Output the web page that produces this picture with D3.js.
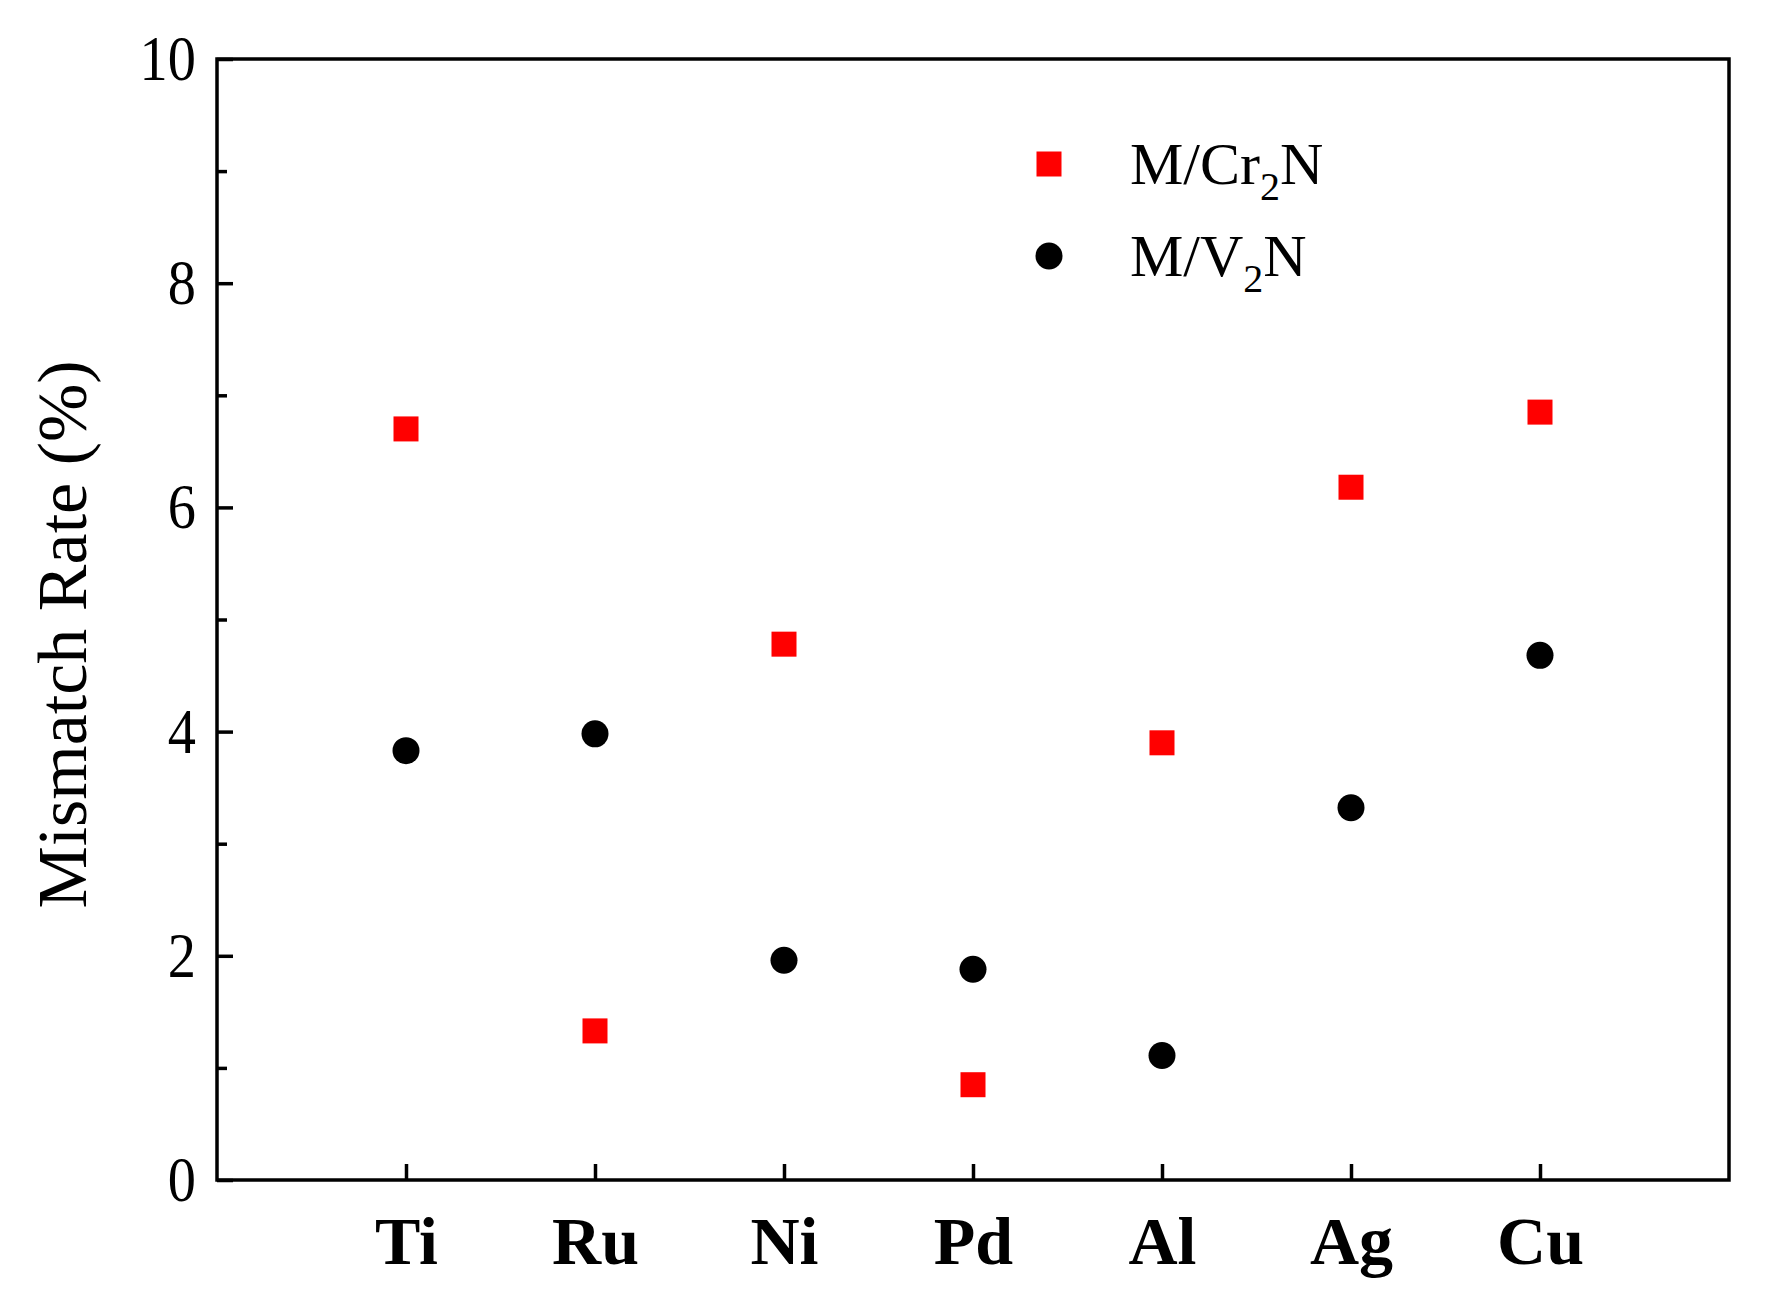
<!DOCTYPE html>
<html><head><meta charset="utf-8">
<script src="https://cdn.jsdelivr.net/npm/d3@7"></script>
<style>body{margin:0;background:#fff}svg{display:block}text{font-family:"Liberation Serif","Times New Roman",serif}</style>
</head><body>
<script>
const metals = ['Ti', 'Ru', 'Ni', 'Pd', 'Al', 'Ag', 'Cu']
const cr2n = [6.70, 1.33, 4.78, 0.85, 3.90, 6.18, 6.85]
const v2n = [3.83, 3.98, 1.96, 1.88, 1.11, 3.32, 4.68]
const yTicks = [0, 2, 4, 6, 8, 10]

const W = 1765, H = 1309
const m = { left: 217, right: 1729, top: 59, bottom: 1180 }
const svg = d3.select('body').append('svg').attr('width', W).attr('height', H)

const x = d3.scaleLinear().domain([0, metals.length + 1]).range([m.left, m.right])
const y = d3.scaleLinear().domain([0, 10]).range([m.bottom, m.top])

// frame
svg.append('rect').attr('x', m.left).attr('y', m.top)
  .attr('width', m.right - m.left).attr('height', m.bottom - m.top)
  .attr('fill', 'none').attr('stroke', '#000').attr('stroke-width', 3.5)

// y axis
const ya = svg.append('g').attr('transform', `translate(${m.left},0)`)
  .call(d3.axisLeft(y).tickValues(d3.range(0, 11, 1)).tickSize(-16)
    .tickFormat(d => yTicks.includes(d) ? d : ''))
ya.select('.domain').remove()
ya.selectAll('line').attr('stroke-width', 3.5)
ya.selectAll('.tick').filter(d => !yTicks.includes(d)).select('line').attr('x2', 10)
ya.selectAll('text').attr('x', -20).attr('font-size', 64).attr('fill', '#000')
  .attr('transform', 'scale(0.88,1)').attr('x', -24)

// x axis
const xa = svg.append('g').attr('transform', `translate(0,${m.bottom})`)
  .call(d3.axisBottom(x).tickValues(metals.map((d, i) => i + 1)).tickSize(-16)
    .tickFormat(d => metals[d - 1]))
xa.select('.domain').remove()
xa.selectAll('line').attr('stroke-width', 3.5)
xa.selectAll('text').attr('y', 36).attr('dy', '0.71em').attr('font-size', 68)
  .attr('font-weight', 'bold').attr('fill', '#000')

svg.append('text').attr('transform', `translate(86,${(m.top + m.bottom) / 2 + 15}) rotate(-90)`)
  .attr('text-anchor', 'middle').attr('font-size', 70).text('Mismatch Rate (%)')

const sq = 25
svg.selectAll('rect.cr').data(cr2n).join('rect').attr('class', 'cr')
  .attr('x', (d, i) => x(i + 1) - sq / 2).attr('y', d => y(d) - sq / 2)
  .attr('width', sq).attr('height', sq).attr('fill', '#ff0000')
svg.selectAll('circle.v').data(v2n).join('circle').attr('class', 'v')
  .attr('cx', (d, i) => x(i + 1)).attr('cy', d => y(d)).attr('r', 13.5).attr('fill', '#000')

// legend
const lg = [{ name: ['M/Cr', '2', 'N'], shape: 'sq' }, { name: ['M/V', '2', 'N'], shape: 'c' }]
lg.forEach((l, i) => {
  const cy = 164 + i * 92
  if (l.shape === 'sq') {
    svg.append('rect').attr('x', 1049 - sq / 2).attr('y', cy - sq / 2).attr('width', sq).attr('height', sq).attr('fill', '#ff0000')
  } else {
    svg.append('circle').attr('cx', 1049).attr('cy', cy).attr('r', 13.5).attr('fill', '#000')
  }
  const t = svg.append('text').attr('x', 1130).attr('y', cy + 20).attr('font-size', 60)
  t.append('tspan').text(l.name[0])
  t.append('tspan').attr('font-size', 40).attr('dy', 16).text(l.name[1])
  t.append('tspan').attr('dy', -16).text(l.name[2])
})
</script>
</body></html>
